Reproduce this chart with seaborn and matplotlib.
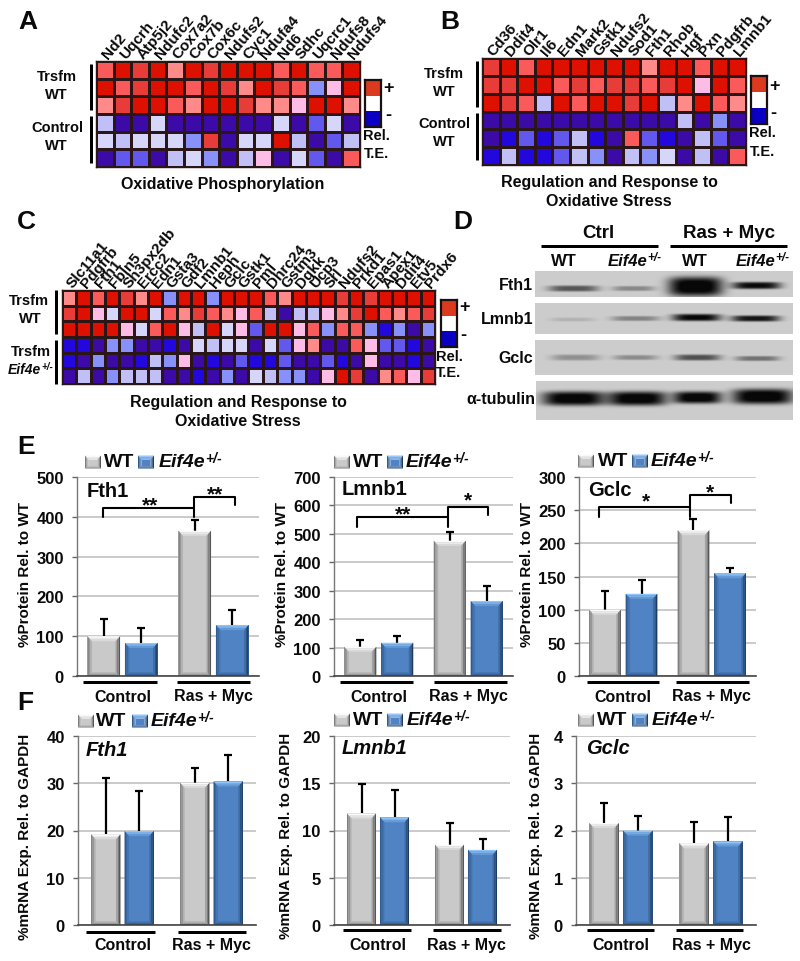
import numpy as np
import pandas as pd
import matplotlib
matplotlib.use('Agg')
import matplotlib.pyplot as plt
import seaborn as sns
from matplotlib.colors import ListedColormap, to_rgb
from matplotlib.patches import Polygon

W, H = 800, 962

# Heatmap data, levels 0 (low) to 10 (high)
genes_a = ['Nd2', 'Uqcrh', 'Atp5j2', 'Ndufc2', 'Cox7a2', 'Cox7b', 'Cox6c', 'Ndufs2',
           'Cyc1', 'Ndufa4', 'Nd6', 'Sdhc', 'Uqcrc1', 'Ndufs8', 'Ndufs4']
levels_a = [[8, 10, 9, 10, 7, 10, 9, 10, 10, 10, 8, 10, 8, 8, 10],
            [10, 8, 9, 10, 10, 8, 10, 9, 7, 10, 9, 8, 3, 6, 10],
            [7, 9, 10, 10, 8, 7, 10, 10, 9, 7, 7, 6, 10, 10, 7],
            [4, 0, 0, 5, 0, 0, 0, 0, 0, 0, 5, 0, 2, 5, 0],
            [5, 4, 5, 5, 5, 3, 9, 0, 5, 5, 10, 4, 0, 2, 4],
            [0, 2, 2, 0, 4, 5, 3, 0, 4, 6, 0, 5, 2, 0, 8]]

genes_b = ['Cd36', 'Ddit4', 'Olr1', 'Il6', 'Edn1', 'Mark2', 'Gstk1', 'Ndufs2',
           'Sod1', 'Fth1', 'Rhob', 'Hgf', 'Pxn', 'Pdgfrb', 'Lmnb1']
levels_b = [[9, 10, 8, 10, 10, 10, 10, 10, 10, 7, 10, 10, 8, 10, 10],
            [9, 9, 10, 10, 8, 9, 8, 9, 9, 8, 9, 10, 6, 10, 8],
            [10, 9, 8, 4, 10, 8, 10, 10, 9, 10, 4, 7, 10, 8, 7],
            [0, 0, 0, 0, 0, 0, 0, 0, 0, 0, 0, 4, 0, 3, 0],
            [0, 1, 2, 1, 2, 4, 1, 0, 8, 2, 1, 0, 4, 2, 0],
            [1, 4, 1, 1, 2, 4, 3, 0, 4, 3, 5, 0, 4, 0, 8]]

genes_c = ['Slc11a1', 'Pdgfrb', 'Fth1', 'Fbln5', 'Sh3px2db', 'Ercc2', 'Edn1', 'Gsta3', 'Gdf2',
           'Lmnb1', 'Heph', 'Gclc', 'Gstk1', 'Pml', 'Dhrc24', 'Gstm3', 'Dgkk', 'Ucp3', 'Srl',
           'Ndufs2', 'Prkd1', 'Epas1', 'Apex1', 'Ddit4', 'Etv5', 'Prdx6']
levels_c = [[7, 10, 8, 10, 9, 7, 10, 3, 10, 10, 3, 10, 10, 10, 8, 7, 10, 10, 10, 9, 10, 9, 10, 10, 10, 10],
            [9, 10, 6, 5, 10, 10, 5, 8, 7, 9, 8, 7, 6, 8, 4, 0, 4, 4, 6, 7, 9, 10, 8, 7, 8, 9],
            [10, 10, 10, 10, 6, 5, 8, 10, 6, 4, 10, 5, 6, 2, 10, 10, 6, 8, 3, 8, 8, 3, 1, 3, 0, 3],
            [1, 1, 0, 3, 3, 0, 0, 1, 0, 5, 4, 5, 5, 0, 5, 2, 6, 7, 0, 0, 8, 6, 2, 2, 1, 0],
            [1, 0, 3, 0, 0, 1, 4, 3, 6, 0, 1, 0, 2, 1, 1, 2, 0, 0, 2, 1, 0, 6, 0, 0, 1, 0],
            [0, 4, 0, 3, 4, 4, 4, 0, 0, 1, 0, 3, 0, 5, 4, 3, 3, 0, 6, 10, 9, 0, 7, 8, 6, 9]]

scale_levels = [[2], [1], [0]]

# Blot band strength per lane (Ctrl WT, Ctrl Eif4e, Ras+Myc WT, Ras+Myc Eif4e)
band_fth1 = [0.55, 0.32, 1.00, 0.90]
band_lmnb1 = [0.12, 0.34, 0.92, 0.85]
band_gclc = [0.28, 0.30, 0.58, 0.42]
band_tubulin = [0.98, 0.98, 0.98, 1.00]

# Bar data
groups = ['Control', 'Ras + Myc']
genotypes = ['WT', 'Eif4e']

fth1_protein = [100, 83, 365, 128]
fth1_protein_top = [142, 120, 392, 166]
lmnb1_protein = [103, 117, 476, 264]
lmnb1_protein_top = [128, 142, 505, 318]
gclc_protein = [100, 124, 220, 155]
gclc_protein_top = [128, 144, 237, 163]

fth1_mrna = [19.2, 19.9, 30.1, 30.4]
fth1_mrna_top = [31.2, 28.3, 33.3, 36.0]
lmnb1_mrna = [11.8, 11.4, 8.5, 7.95]
lmnb1_mrna_top = [14.9, 14.3, 10.8, 9.1]
gclc_mrna = [2.16, 2.00, 1.73, 1.77]
gclc_mrna_top = [2.59, 2.30, 2.18, 2.28]

heat_colors = ['#3c0aa6', '#2208dc', '#6258ee', '#8890fa', '#c0c0f6', '#d6d6fa',
               '#fcbce6', '#ff8a8a', '#fa5a5a', '#e83c38', '#de1000']
gray_style = dict(base='#c9c9c9', top='#fbfbfb', left='#7e7e7e', right='#565656', bottom='#787878')
blue_style = dict(base='#4f83c4', top='#92c6fa', left='#2f5c90', right='#1e3c60', bottom='#264c7a')

sns.set_theme(style='ticks')
plt.rcParams['font.family'] = ['Liberation Sans', 'DejaVu Sans']
plt.rcParams['font.weight'] = 'bold'
plt.rcParams['axes.labelweight'] = 'bold'
plt.rcParams['text.color'] = '#0a0a0a'
plt.rcParams['xtick.labelcolor'] = '#0a0a0a'
plt.rcParams['ytick.labelcolor'] = '#0a0a0a'

fig = plt.figure(figsize=(W / 100, H / 100), dpi=100, facecolor='white')


def px_axes(x0, y0, x1, y1):
    return fig.add_axes([x0 / W, 1 - y1 / H, (x1 - x0) / W, (y1 - y0) / H])


over = fig.add_axes([0, 0, 1, 1], zorder=10, facecolor='none')
over.set_xlim(0, W)
over.set_ylim(H, 0)
over.axis('off')


def label(x, y, s, size=10.5, ha='center', **kw):
    return over.text(x, y, s, fontsize=size, ha=ha, va='center', fontweight='bold', **kw)


def line(x0, x1, y, width=3):
    over.plot([x0, x1], [y, y], color='black', lw=width * 0.72, solid_capstyle='butt')


def vline(x, y0, y1, width=3):
    over.plot([x, x], [y0, y1], color='black', lw=width * 0.72, solid_capstyle='butt')


def eif4e(x, y, size, sup):
    t = label(x, y, 'Eif4e', size=size, ha='left', fontstyle='italic')
    box = t.get_window_extent(fig.canvas.get_renderer())
    label(box.x1, y - size * 0.3, '+/-', size=sup, ha='left', fontstyle='italic')


def blend(a, b, f):
    a, b = np.array(to_rgb(a)), np.array(to_rgb(b))
    return tuple(a + (b - a) * f)


def bevel(ax, x0, x1, y0, y1, style, dx, dy, zorder=2):
    # Chiselled edge drawn from the outside of the bar inwards
    for k in range(3):
        f = k / 3
        ix0, ix1 = x0 + k * dx, x1 - k * dx
        iy0, iy1 = y0 + k * dy * 0.7, y1 - k * dy
        nx0, nx1 = ix0 + dx, ix1 - dx
        ny0, ny1 = iy0 + dy * 0.7, iy1 - dy
        sides = [('top', [(ix0, iy1), (ix1, iy1), (nx1, ny1), (nx0, ny1)]),
                 ('bottom', [(ix0, iy0), (ix1, iy0), (nx1, ny0), (nx0, ny0)]),
                 ('left', [(ix0, iy0), (nx0, ny0), (nx0, ny1), (ix0, iy1)]),
                 ('right', [(ix1, iy0), (nx1, ny0), (nx1, ny1), (ix1, iy1)])]
        for side, pts in sides:
            ax.add_patch(Polygon(pts, closed=True, lw=0, zorder=zorder,
                                 fc=blend(style[side], style['base'], f)))


def heatmap(box, levels, genes):
    ax = px_axes(*box)
    sns.heatmap(np.array(levels), ax=ax, cmap=ListedColormap(heat_colors), vmin=-0.5, vmax=10.5,
                cbar=False, linewidths=0.8, linecolor='#2a1616',
                xticklabels=genes, yticklabels=False)
    ax.xaxis.tick_top()
    ax.tick_params(axis='x', length=0, pad=3)
    plt.setp(ax.get_xticklabels(), rotation=50, ha='left', va='center',
             rotation_mode='anchor', fontsize=11, fontweight='bold')
    for s in ax.spines.values():
        s.set_visible(True)
        s.set_color('#2a1616')
        s.set_linewidth(1)
    return ax


def scale_bar(box):
    ax = px_axes(*box)
    sns.heatmap(np.array(scale_levels), ax=ax, cmap=ListedColormap(['#0a00c4', '#ffffff', '#dc3a1e']),
                cbar=False, xticklabels=False, yticklabels=False, vmin=-0.5, vmax=2.5)
    for s in ax.spines.values():
        s.set_visible(True)
        s.set_color('#1a1010')
        s.set_linewidth(1.6)


def blot(box, strengths, centers, widths, heights, offsets):
    x0, y0, x1, y1 = box
    ax = px_axes(*box)
    xx, yy = np.meshgrid(np.arange(x0, x1, 0.5), np.arange(y0, y1, 0.5))
    img = np.full(xx.shape, 0.80)
    for s, c, w, h, o in zip(strengths, centers, widths, heights, offsets):
        d = np.exp(-np.abs((xx - c) / (w / 2)) ** 4.0 - np.abs((yy - o) / (h / 2)) ** 3.5)
        img -= s * 0.85 * d
    sns.heatmap(np.clip(img, 0.03, 1), ax=ax, cmap='gray', vmin=0, vmax=1, cbar=False,
                xticklabels=False, yticklabels=False, rasterized=True)


def bars(box, values, tops, ymax, step, ylabel, ylabel_x, ylabel_y, title, title_xy, italic, bar_width, gap):
    ax = px_axes(*box)
    n = len(values)
    df = pd.DataFrame({'group': [groups[i // 2] for i in range(n)],
                       'genotype': [genotypes[i % 2] for i in range(n)],
                       'value': values})
    sns.barplot(data=df, x='group', y='value', hue='genotype', ax=ax, errorbar=None, legend=False,
                palette=[gray_style['base'], blue_style['base']], width=bar_width, gap=gap, saturation=1)
    ax.set_xlim(-0.5, 1.5)
    ax.set_ylim(0, ymax)
    ax.set_axisbelow(True)
    ax.yaxis.grid(True, color='#bcbcbc', lw=1.1)
    ax.set_yticks(np.arange(0, ymax + step / 2, step))
    ax.set_xlabel('')
    ax.set_ylabel('')
    ax.tick_params(axis='y', length=3.5, width=1, color='#666666', labelsize=12, pad=6)
    ax.tick_params(axis='x', length=0, labelsize=11.5, pad=9)
    sns.despine(ax=ax)
    ax.spines['left'].set_color('#777777')
    ax.spines['bottom'].set_color('#444444')
    ax.spines['left'].set_linewidth(1)
    ax.spines['bottom'].set_linewidth(1.2)

    width_px = box[2] - box[0]
    height_px = box[3] - box[1]
    dx = 1.5 * 2 / width_px
    dy = 1.7 * ymax / height_px
    patches = sorted(ax.patches, key=lambda p: p.get_x())
    for i, p in enumerate(patches):
        p.set_edgecolor('none')
        x0, x1 = p.get_x(), p.get_x() + p.get_width()
        h = p.get_height()
        bevel(ax, x0, x1, 0, h, gray_style if i % 2 == 0 else blue_style, dx, dy)
        ax.errorbar((x0 + x1) / 2, h, yerr=tops[i] - h, fmt='none', ecolor='black',
                    elinewidth=1.6, capsize=3.2, capthick=1.6, zorder=0.8)

    label(title_xy[0], title_xy[1], title, size=14.5, ha='left', fontstyle='italic' if italic else 'normal')
    label(ylabel_x, ylabel_y, ylabel, size=11, rotation=90)
    return ax


def legend_row(gx, wt_x, bx, eif_x, y, sw=16):
    bevel(over, gx, gx + sw, y + 6.5, y - 6.5, gray_style, 1.2, -1.4)
    over.fill_between([gx + 3.6, gx + sw - 3.6], y - 2.3, y + 3.6, color=gray_style['base'], lw=0, zorder=3)
    label(wt_x, y, 'WT', size=14, ha='left')
    bevel(over, bx, bx + sw, y + 6.5, y - 6.5, blue_style, 1.2, -1.4)
    over.fill_between([bx + 3.6, bx + sw - 3.6], y - 2.3, y + 3.6, color=blue_style['base'], lw=0, zorder=3)
    eif4e(eif_x, y, 14, 10)


def bracket(x0, y0, ym, x1, y1):
    over.plot([x0, x0, x1, x1], [y0, ym, ym, y1], color='black', lw=1.5, solid_joinstyle='round')


# Panel letters
for letter, lx, ly in [('A', 18, 22), ('B', 440, 22), ('C', 17, 222), ('D', 453, 222), ('E', 17, 447), ('F', 17, 703)]:
    label(lx, ly, letter, size=19, ha='left')

# Panel A
heatmap((96, 62, 360, 168), levels_a, genes_a)
scale_bar((364.5, 81, 380.5, 128))
for x, y, s in [(57, 77, 'Trsfm'), (56, 95, 'WT'), (57, 128, 'Control'), (56, 146, 'WT')]:
    label(x, y, s, size=10.5)
vline(91, 65, 111)
vline(91, 117, 164)
label(388, 89, '+', size=13)
label(388, 116, '-', size=13)
label(376, 136, 'Rel.', size=10.5)
label(376, 154, 'T.E.', size=10.5)
label(223, 185, 'Oxidative Phosphorylation', size=11.5)

# Panel B
heatmap((482, 59, 746, 166), levels_b, genes_b)
scale_bar((750.5, 77, 766.5, 125))
for x, y, s in [(444, 74, 'Trsfm'), (444, 92, 'WT'), (444, 124, 'Control'), (444, 142, 'WT')]:
    label(x, y, s, size=10.5)
vline(477, 62, 108)
vline(477, 114, 161)
label(774, 86, '+', size=13)
label(773, 113, '-', size=13)
label(762, 133, 'Rel.', size=10.5)
label(762, 152, 'T.E.', size=10.5)
label(609, 182, 'Regulation and Response to', size=11.5)
label(609, 202, 'Oxidative Stress', size=11.5)

# Panel C
heatmap((62, 291, 435, 385), levels_c, genes_c)
scale_bar((440.5, 301, 456.5, 348))
label(29, 301, 'Trsfm', size=10.5)
label(30, 319, 'WT', size=10.5)
label(31, 352, 'Trsfm', size=10.5)
eif4e(8, 370, 10, 7)
vline(56, 291, 335)
vline(56, 341, 385)
label(465, 308, '+', size=13)
label(463, 336, '-', size=13)
label(449, 357, 'Rel.', size=10.5)
label(449, 373, 'T.E.', size=10.5)
label(238, 403, 'Regulation and Response to', size=11.5)
label(238, 422, 'Oxidative Stress', size=11.5)

# Panel D
label(598, 233, 'Ctrl', size=13.5)
label(729, 233, 'Ras + Myc', size=13.5)
line(541, 658, 247)
line(670, 787, 247)
label(564, 262, 'WT', size=12)
eif4e(608, 262, 12, 8.5)
label(695, 262, 'WT', size=12)
eif4e(736, 262, 12, 8.5)
blot((535, 272, 793, 298), band_fth1, [573, 633, 695, 756], [50, 42, 54, 48], [6, 5, 19, 7], [289, 289, 287, 286])
blot((535, 304, 793, 335), band_lmnb1, [572, 635, 696, 755], [44, 48, 48, 48], [4, 5, 7, 6], [320, 319, 318, 319])
blot((535, 341, 793, 376), band_gclc, [575, 635, 697, 757], [48, 44, 46, 44], [6, 5, 6, 5], [358, 358, 358, 359])
blot((536, 382, 793, 421), band_tubulin, [573, 637, 697, 762], [62, 58, 48, 60], [14, 14, 12, 15], [399, 399, 398, 397])
for y, s, x in [(286, 'Fth1', 533), (320, 'Lmnb1', 533), (359, 'Gclc', 533), (400, '\u03b1-tubulin', 535)]:
    label(x, y, s, size=11.5, ha='right')

# Panel E
bars((77, 478, 259, 677), fth1_protein, fth1_protein_top, 500, 100, '%Protein Rel. to WT', 25, 575,
     'Fth1', (87, 492), False, 0.825, 0.13)
bars((334, 478, 513, 677), lmnb1_protein, lmnb1_protein_top, 700, 100, '%Protein Rel. to WT', 282, 575,
     'Lmnb1', (342, 490), False, 0.825, 0.13)
bars((579, 478, 756, 677), gclc_protein, gclc_protein_top, 300, 50, '%Protein Rel. to WT', 527, 575,
     'Gclc', (588, 491), False, 0.825, 0.13)
legend_row(85, 104, 138, 159, 463)
legend_row(334, 353, 387, 406, 463)
legend_row(578, 598, 632, 651, 462)
for a, b in [(83, 157), (177, 250), (340, 413), (434, 507), (587, 659), (676, 749)]:
    line(a, b, 683)

bracket(103, 518, 509, 194, 518)
bracket(194, 509, 498, 235, 506)
label(150, 506, '**', size=15)
label(215, 495, '**', size=15)
bracket(357, 528, 518, 448, 528)
bracket(448, 518, 508, 488, 516)
label(403, 515, '**', size=15)
label(468, 501, '*', size=15)
bracket(599, 518, 508, 690, 518)
bracket(690, 508, 496, 731, 504)
label(646, 502, '*', size=15)
label(710, 493, '*', size=15)

# Panel F
bars((78, 737, 256, 926), fth1_mrna, fth1_mrna_top, 40, 10, '%mRNA Exp. Rel. to GAPDH', 25, 837,
     'Fth1', (86, 751), True, 0.75, 0.12)
bars((334, 737, 510, 926), lmnb1_mrna, lmnb1_mrna_top, 20, 5, '%mRNA Exp. Rel. to GAPDH', 286, 836,
     'Lmnb1', (342, 749), True, 0.75, 0.12)
bars((576, 737, 756, 926), gclc_mrna, gclc_mrna_top, 4, 1, '%mRNA Exp. Rel. to GAPDH', 536, 836,
     'Gclc', (586, 749), True, 0.75, 0.12)
legend_row(78, 96, 132, 151, 722)
legend_row(334, 353, 387, 407, 721)
legend_row(578, 597, 632, 652, 721)
for a, b, y in [(86, 155, 933), (178, 246, 933), (343, 411, 931), (433, 501, 931), (587, 654, 931), (676, 743, 931)]:
    line(a, b, y)

plt.savefig('out.png', dpi=100)
plt.close()
